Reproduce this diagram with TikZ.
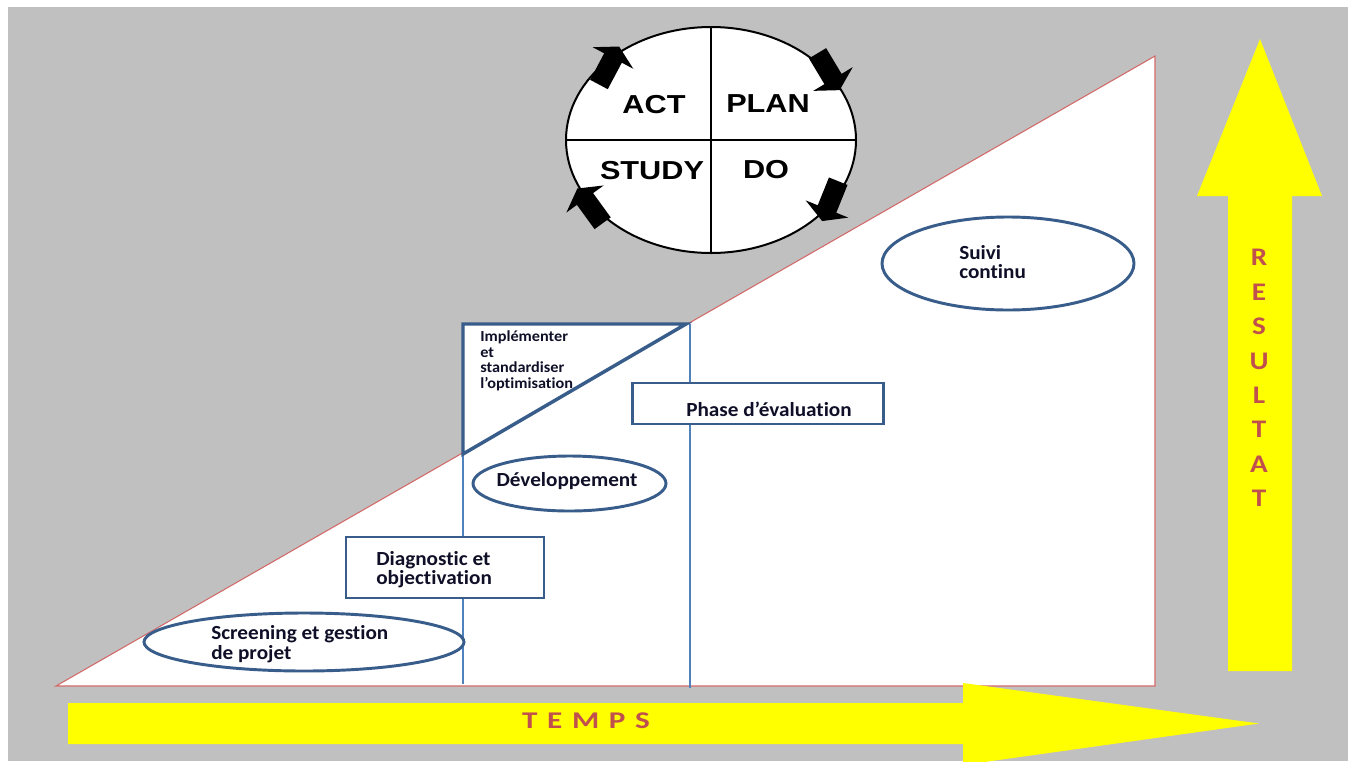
\documentclass[tikz,border=0pt]{standalone}
\usepackage{fontspec}
\setmainfont[FakeStretch=1.06,Ligatures=NoCommon]{Carlito}
\newfontfamily\pdcafont[FakeStretch=1.18]{Liberation Sans}
\newfontfamily\axisfont[FakeStretch=1.3,LetterSpace=40,Ligatures=NoCommon]{Carlito}
\newfontfamily\resfont[FakeStretch=1.15]{Carlito}
\usetikzlibrary{shapes.geometric}
\definecolor{bg}{RGB}{192,192,192}
\definecolor{triline}{RGB}{210,105,105}
\definecolor{dblue}{RGB}{56,93,138}
\definecolor{lblue}{RGB}{79,129,189}
\definecolor{ylw}{RGB}{255,255,0}
\definecolor{axislbl}{RGB}{192,80,77}
\definecolor{lbltext}{RGB}{15,15,40}
\tikzset{
  shapebox/.style={draw=dblue, line width=2.2pt, fill=white, rectangle, inner sep=0pt},
  shapeell/.style={draw=dblue, line width=2.2pt, fill=white, ellipse, inner sep=0pt},
  lbl/.style={font=\bfseries\fontsize{15}{14.6}\selectfont, align=left, inner sep=0pt, text=lbltext},
  smalllbl/.style={font=\bfseries\fontsize{11.5}{11.6}\selectfont, align=left, inner sep=0pt, text=lbltext},
  pdcalbl/.style={font=\pdcafont\bfseries\fontsize{19.5}{22}\selectfont, inner sep=0pt},
  axistxt/.style={font=\axisfont\bfseries\fontsize{18}{20}\selectfont, text=axislbl, inner sep=0pt},
  restxt/.style={font=\resfont\bfseries\fontsize{19}{25.8}\selectfont, text=axislbl, inner sep=0pt, align=center},
  phaseline/.style={draw=lblue, line width=0.8pt},
  blockarrow/.style={fill=black}
}
\begin{document}
\begin{tikzpicture}[x=0.75pt,y=-0.75pt]
\useasboundingbox (0,0) rectangle (1348,761);
% background
\fill[bg] (8,7) rectangle (1348,761);
% main triangle
\coordinate (tl) at (56,686);
\coordinate (tr) at (1155,686);
\coordinate (tt) at (1155,56);
\filldraw[fill=white, draw=triline, line width=0.8pt] (tl) -- (tr) -- (tt) -- cycle;
% phase lines
\coordinate (la) at (463,455);
\coordinate (lab) at (463,684);
\coordinate (lb) at (690,324);
\coordinate (lbb) at (690,688);
\draw[phaseline] (la) -- (lab);
\draw[phaseline] (lb) -- (lbb);
% implementer triangle
\coordinate (i1) at (463,324);
\coordinate (i2) at (686,324);
\coordinate (i3) at (463,454);
\filldraw[fill=white, draw=dblue, line width=2.6pt, line join=miter] (i1) -- (i2) -- (i3) -- cycle;
\node[smalllbl, anchor=west] (impl) at (480,361) {Implémenter\\et\\standardiser\\l’optimisation};
% phases
\node[shapeell, minimum width=240pt, minimum height=43.5pt] (screen) at (304,642) {};
\node[lbl, anchor=west] (screent) at (211,644) {Screening et gestion\\de projet};
\node[shapebox, minimum width=148.5pt, minimum height=45.75pt] (diag) at (445,567.5) {};
\node[lbl, anchor=west] (diagt) at (376,569.5) {Diagnostic et\\objectivation};
\node[shapeell, minimum width=144.75pt, minimum height=41.25pt] (dev) at (569.5,483.5) {};
\node[lbl] (devt) at (567,481) {Développement};
\node[shapebox, minimum width=188pt, minimum height=30.75pt] (phase) at (758,403.5) {};
\node[lbl, anchor=west] (phaset) at (686,409) {Phase d’évaluation};
\node[shapeell, minimum width=189pt, minimum height=69.75pt] (suivi) at (1008,263.5) {};
\node[lbl, anchor=west] (suivit) at (959,262) {Suivi\\continu};
% yellow arrows
\fill[ylw] (68,703) -- (963,703) -- (963,683) -- (1259,723.5) -- (963,765) -- (963,744) -- (68,744) -- cycle;
\node[axistxt] (temps) at (586,721) {TEMPS};
\fill[ylw] (1228,671) -- (1228,196) -- (1197,196) -- (1260,39) -- (1322,196) -- (1292,196) -- (1292,671) -- cycle;
\node[restxt] (result) at (1259,378) {R\\E\\S\\U\\L\\T\\A\\T};
% PDCA circle
\node[ellipse, draw=black, line width=1.5pt, fill=white, minimum width=217.5pt, minimum height=169.5pt, inner sep=0pt] (pdca) at (711,140) {};
\draw[line width=1.5pt] (pdca.north) -- (pdca.south);
\draw[line width=1.5pt] (pdca.west) -- (pdca.east);
\node[pdcalbl] (act) at (654,105) {ACT};
\node[pdcalbl] (plan) at (768,104) {PLAN};
\node[pdcalbl] (study) at (652,171) {STUDY};
\node[pdcalbl] (do) at (766,170) {DO};
% cycle arrows
\foreach \px/\py/\ang in {613/58/62, 833/79/-59, 827/209/-112, 585/199/126}{
  \fill[blockarrow, shift={(\px,\py)}, rotate=\ang]
    (-30,-10) -- (0,-10) -- (0,-23) -- (13,0) -- (0,23) -- (0,10) -- (-30,10) -- cycle;
}
\end{tikzpicture}
\end{document}
